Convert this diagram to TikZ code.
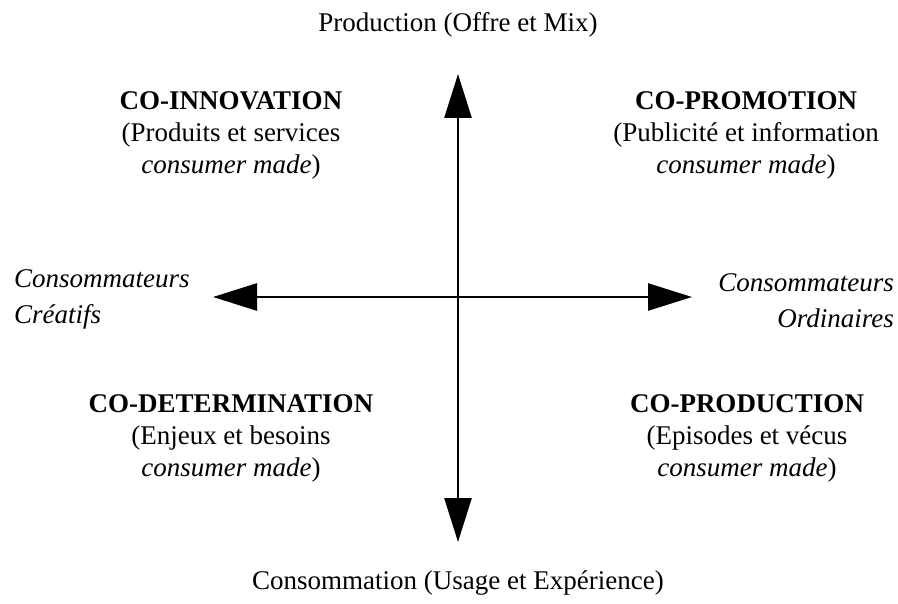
\documentclass[tikz,border=0pt]{standalone}
\usepackage{fontspec}
\setmainfont{Liberation Serif}
\usetikzlibrary{arrows.meta}

\begin{document}
\begin{tikzpicture}[x=0.5pt, y=-0.5pt,
        axis/.style={line width=1.3pt, {Triangle[length=22pt, width=13.5pt]}-{Triangle[length=22pt, width=13.5pt]}},
        quad/.style={align=center, font=\fontsize{13.5}{16}\selectfont},
        pole/.style={font=\fontsize{13.5}{16}\selectfont}]
        \useasboundingbox (0,0) rectangle (898,604);

        % axes
        \coordinate (top) at (458,74);
        \coordinate (bot) at (458,542);
        \coordinate (lft) at (213,297);
        \coordinate (rgt) at (692,297);
        \draw[axis] (bot) -- (top);
        \draw[axis] (lft) -- (rgt);

        % poles
        \node[pole] (prod) at (458,25) {Production (Offre et Mix)};
        \node[pole] (cons) at (458,583) {Consommation (Usage et Expérience)};
        \node[pole, anchor=west, align=left] (crea) at (7,299) {\itshape Consommateurs\\[2pt]\itshape Créatifs};
        \node[pole, anchor=east, align=right] (ordi) at (901,301) {\itshape Consommateurs\\[2pt]\itshape Ordinaires};

        % quadrants
        \node[quad] (innov) at (231,135) {\textbf{CO-INNOVATION}\\(Produits et services\\\textit{consumer made})};
        \node[quad] (promo) at (746,135) {\textbf{CO-PROMOTION}\\(Publicité et information\\\textit{consumer made})};
        \node[quad] (deter) at (231,438) {\textbf{CO-DETERMINATION}\\(Enjeux et besoins\\\textit{consumer made})};
        \node[quad] (produ) at (747,438) {\textbf{CO-PRODUCTION}\\(Episodes et vécus\\\textit{consumer made})};
    \end{tikzpicture}
\end{document}
